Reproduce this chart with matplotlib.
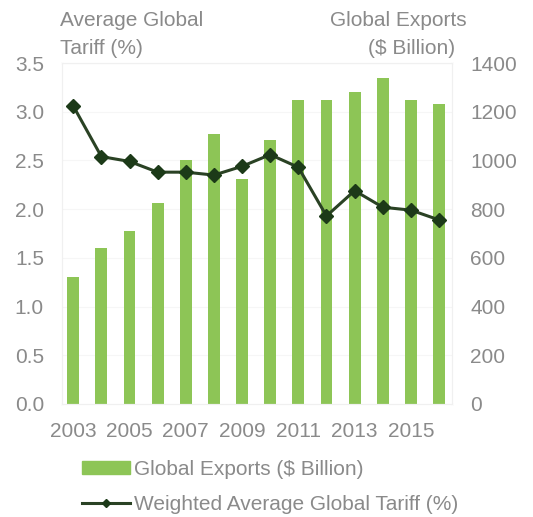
import numpy as np
import matplotlib.pyplot as plt
from matplotlib.lines import Line2D
from matplotlib.patches import Patch

plt.rcParams['font.family'] = ['Liberation Sans', 'DejaVu Sans']

years = list(range(2003, 2017))
exports = [520, 640, 710, 825, 1000, 1110, 925, 1085, 1250, 1250, 1280, 1340, 1250, 1230]
tariff = [3.06, 2.54, 2.49, 2.38, 2.38, 2.35, 2.44, 2.56, 2.43, 1.93, 2.19, 2.02, 1.99, 1.89]
year_ticks = [2003, 2005, 2007, 2009, 2011, 2013, 2015]

bar_color = '#8dc556'
line_color = '#2a4224'
text_color = '#8a8a8a'
fs = 15

fig = plt.figure(figsize=(5.33, 5.17), dpi=100)
ax = fig.add_axes([0.1163, 0.2186, 0.7317, 0.6594])
ax2 = ax.twinx()

# exports as bars (right scale), tariff as line (left scale)
ax.bar(years, exports, width=0.42, color=bar_color, zorder=2)
ax.yaxis.tick_right()
ax.set_ylim(0, 1400)
ax.set_yticks(range(0, 1401, 200))

ax2.plot(years, tariff, color=line_color, lw=2.2, marker='D', ms=7,
         mfc='#1c3a18', mec='#1c3a18', zorder=3)
ax2.yaxis.tick_left()
ax2.set_ylim(0, 3.5)
ax2.set_yticks(np.arange(0, 3.51, 0.5))
ax2.set_yticklabels([f'{v:.1f}' for v in np.arange(0, 3.51, 0.5)])

ax.set_xlim(2002.6, 2016.46)
ax.set_xticks(year_ticks)
ax.set_xticklabels([str(y) for y in year_ticks])

for a in (ax, ax2):
    a.tick_params(length=0, labelsize=fs, labelcolor=text_color)
    for s in a.spines.values():
        s.set_color('#f0f0f0')
        s.set_linewidth(0.8)
ax.tick_params(axis='y', pad=13)
ax2.tick_params(axis='y', pad=13)
ax.tick_params(axis='x', pad=13)

# faint horizontal guides
for v in range(200, 1401, 200):
    ax.axhline(v, color='#f6f6f6', lw=0.8, zorder=0)

fig.text(60 / 533, 1 - 20 / 517, 'Average Global', fontsize=fs, color=text_color,
         ha='left', va='center')
fig.text(60 / 533, 1 - 48 / 517, 'Tariff (%)', fontsize=fs, color=text_color,
         ha='left', va='center')
fig.text(467 / 533, 1 - 20 / 517, 'Global Exports', fontsize=fs, color=text_color,
         ha='right', va='center')
fig.text(455 / 533, 1 - 48 / 517, '($ Billion)', fontsize=fs, color=text_color,
         ha='right', va='center')

handles = [Patch(color=bar_color, label='Global Exports ($ Billion)'),
           Line2D([], [], color=line_color, lw=2.2, marker='D', ms=4,
                  mfc='#1c3a18', mec='#1c3a18',
                  label='Weighted Average Global Tariff (%)')]
leg = fig.legend(handles=handles, loc='upper left', bbox_to_anchor=(82 / 533, 1 - 460 / 517),
                 frameon=False, fontsize=fs, handlelength=2.3, handleheight=0.55,
                 handletextpad=0.2, labelspacing=0.75, borderpad=0, borderaxespad=0)
for t in leg.get_texts():
    t.set_color(text_color)

fig.savefig('out.png', dpi=100)
